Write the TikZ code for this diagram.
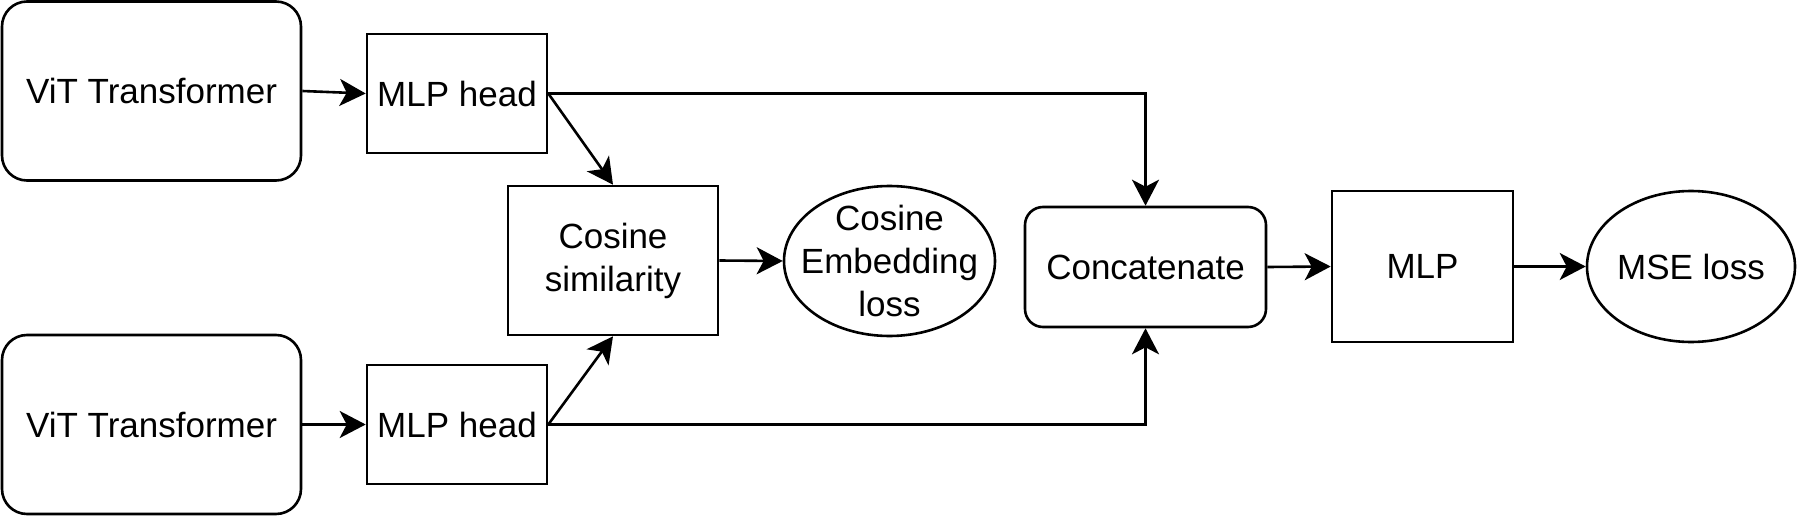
\documentclass[tikz,border=0pt]{standalone}
\usepackage{fontspec}
\setmainfont{Liberation Sans}
\usetikzlibrary{arrows.meta,shapes.geometric}
\begin{document}
\begin{tikzpicture}[x=1pt,y=-1pt,
  every node/.style={font=\fontsize{35}{43}\selectfont, align=center, inner sep=0pt, line width=2.6pt, draw=black},
  rbox/.style={rectangle, rounded corners=25pt},
  sbox/.style={rectangle},
  ebox/.style={ellipse},
  etext/.style={draw=none},
  conn/.style={line width=2.6pt, -{Stealth[length=26pt,width=27pt,inset=7pt]}}]
\useasboundingbox (0,0) rectangle (1797,519);
\node[rbox, minimum width=299pt, minimum height=179pt] (vit1) at (151.5,91) {ViT Transformer};
\node[sbox, minimum width=180pt, minimum height=119pt] (mlp1) at (457,93.5) {MLP head};
\node[rbox, minimum width=299pt, minimum height=179pt] (vit2) at (151.5,424.5) {ViT Transformer};
\node[sbox, minimum width=180pt, minimum height=119pt] (mlp2) at (457,424.5) {MLP head};
\node[sbox, minimum width=210pt, minimum height=149pt] (cos) at (613,260.5) {Cosine\\similarity};
\node[ebox, minimum width=211pt, minimum height=150pt] (emb) at (889.5,261) {};
\node[etext] (embtxt) at (emb.center) {Cosine\\Embedding\\loss};
\node[rbox, rounded corners=18pt, minimum width=241pt, minimum height=120pt] (cat) at (1145.5,267) {Concatenate};
\node[sbox, minimum width=181pt, minimum height=151pt] (mlp) at (1422.5,266.5) {MLP};
\node[ebox, minimum width=208pt, minimum height=151pt] (mse) at (1691,266.5) {};
\node[etext] (msetxt) at (mse.center) {MSE loss};
\draw[conn] (vit1.east) -- (mlp1.west);
\draw[conn] (vit2.east) -- (mlp2.west);
\draw[conn] (mlp1.east) -- (cos.north);
\draw[conn] (mlp2.east) -- (cos.south);
\draw[conn] (mlp1.east) -| (cat.north);
\draw[conn] (mlp2.east) -| (cat.south);
\draw[conn] (cos.east) -- (emb.west);
\draw[conn] (cat.east) -- (mlp.west);
\draw[conn] (mlp.east) -- (mse.west);
\end{tikzpicture}
\end{document}
